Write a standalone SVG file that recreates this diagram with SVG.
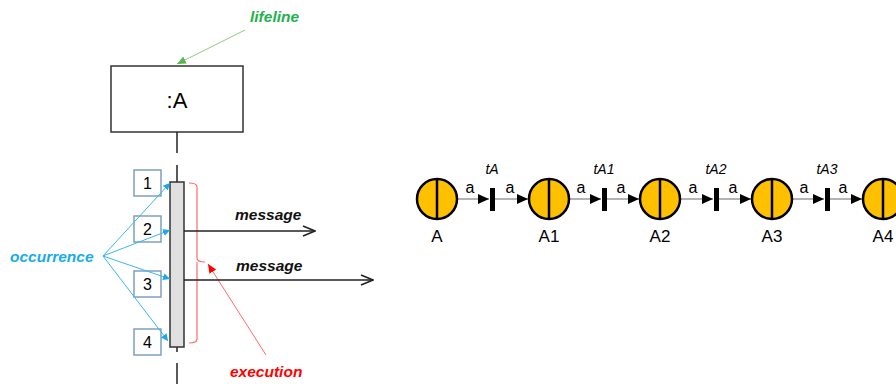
<svg xmlns="http://www.w3.org/2000/svg" width="896" height="384" viewBox="0 0 896 384">
  <style>
    .lbl { font-family: "Liberation Sans", Arial, sans-serif; }
    .note { font-family: "Liberation Sans", Arial, sans-serif; font-weight: bold; font-style: italic; font-size: 15.5px; }
    .life { stroke: #222; stroke-width: 1.5; fill: none; }
    .num { fill: #fff; stroke: #7f9fbf; stroke-width: 1.5; }
    .blue { stroke: #3bb7ee; stroke-width: 1; fill: none; }
    .place { fill: #ffc000; stroke: #000; stroke-width: 2.5; }
    .arc { stroke: #9a9a9a; stroke-width: 1.5; fill: none; }
    .msg { stroke: #222; stroke-width: 1.5; fill: none; }
  </style>
  <defs>
    <marker id="openArrow" markerWidth="14" markerHeight="12" refX="13" refY="6" orient="auto" markerUnits="userSpaceOnUse">
      <path d="M1,1 L13,6 L1,11" fill="none" stroke="#222" stroke-width="1.5"/>
    </marker>
    <marker id="blueArrow" markerWidth="8" markerHeight="8" refX="7" refY="4" orient="auto" markerUnits="userSpaceOnUse">
      <path d="M0,0.5 L7,4 L0,7.5 z" fill="#1aa8e8"/>
    </marker>
    <marker id="greenArrow" markerWidth="10" markerHeight="10" refX="9" refY="5" orient="auto" markerUnits="userSpaceOnUse">
      <path d="M0,1 L9,5 L0,9 z" fill="#5ab552"/>
    </marker>
    <marker id="redArrow" markerWidth="10" markerHeight="10" refX="9" refY="5" orient="auto" markerUnits="userSpaceOnUse">
      <path d="M0,1 L9,5 L0,9 z" fill="#ff0000"/>
    </marker>
    <marker id="arcArrow" markerWidth="12" markerHeight="12" refX="11" refY="6" orient="auto" markerUnits="userSpaceOnUse">
      <path d="M0,1 L11,6 L0,11 z" fill="#000"/>
    </marker>
  </defs>

  <!-- Sequence diagram: lifeline head -->
  <g id="objA">
    <rect x="111" y="66" width="132" height="66" fill="#fff" stroke="#333" stroke-width="1.5"/>
    <text class="lbl" x="177" y="108" font-size="22" text-anchor="middle" fill="#000">:A</text>
  </g>

  <!-- Lifeline segments -->
  <g id="lifeline">
    <line class="life" x1="177" y1="132" x2="177" y2="153"/>
    <line class="life" x1="177" y1="165" x2="177" y2="182"/>
    <line class="life" x1="177" y1="347" x2="177" y2="352"/>
    <line class="life" x1="177" y1="363" x2="177" y2="384"/>
  </g>

  <!-- Execution specification bar -->
  <g id="activation">
    <rect x="170" y="182" width="14" height="165" fill="#e0e0e0" stroke="#333" stroke-width="1.5"/>
  </g>

  <!-- Occurrence boxes -->
  <g id="occ1">
    <rect class="num" x="134" y="170" width="27" height="26"/>
    <text class="lbl" x="147.5" y="189" font-size="16" text-anchor="middle">1</text>
  </g>
  <g id="occ2">
    <rect class="num" x="134" y="216" width="27" height="26"/>
    <text class="lbl" x="147.5" y="235" font-size="16" text-anchor="middle">2</text>
  </g>
  <g id="occ3">
    <rect class="num" x="134" y="271" width="27" height="26"/>
    <text class="lbl" x="147.5" y="290" font-size="16" text-anchor="middle">3</text>
  </g>
  <g id="occ4">
    <rect class="num" x="134" y="329" width="27" height="26"/>
    <text class="lbl" x="147.5" y="348" font-size="16" text-anchor="middle">4</text>
  </g>

  <!-- Annotations -->
  <g id="note-lifeline">
    <text class="note" x="250" y="22" fill="#22b14c">lifeline</text>
  </g>
  <g id="note-occurrence">
    <text class="note" x="10" y="262" fill="#1aace8">occurrence</text>
  </g>
  <g id="note-execution">
    <text class="note" x="230" y="377" fill="#ff0000">execution</text>
  </g>
  <g id="msg-label1">
    <text class="note" x="235" y="220" fill="#111">message</text>
  </g>
  <g id="msg-label2">
    <text class="note" x="236" y="271" fill="#111">message</text>
  </g>

  <!-- Execution bracket -->
  <g id="bracket">
    <path d="M189,183 Q197,183 197,187 L197,258 Q197,262 205,262 M197,262 L197,339 Q197,343 189,343" fill="none" stroke="#ff6b6b" stroke-width="1.2"/>
  </g>

  <!-- Connectors -->
  <g id="connectors">
    <line x1="245" y1="30" x2="177" y2="64" stroke="#8fcc80" stroke-width="1" marker-end="url(#greenArrow)"/>
    <line class="blue" x1="103" y1="256" x2="170" y2="183" marker-end="url(#blueArrow)"/>
    <line class="blue" x1="103" y1="256" x2="170" y2="230" marker-end="url(#blueArrow)"/>
    <line class="blue" x1="103" y1="256" x2="170" y2="279" marker-end="url(#blueArrow)"/>
    <line class="blue" x1="103" y1="256" x2="168" y2="341" marker-end="url(#blueArrow)"/>
    <line x1="266" y1="355" x2="208" y2="264" stroke="#ff6b6b" stroke-width="1" marker-end="url(#redArrow)"/>
    <line class="msg" x1="184" y1="231" x2="315" y2="231" marker-end="url(#openArrow)"/>
    <line class="msg" x1="184" y1="280" x2="373" y2="280" marker-end="url(#openArrow)"/>

    <!-- Petri net arcs -->
    <line class="arc" x1="458" y1="199" x2="489" y2="199" marker-end="url(#arcArrow)"/>
    <line class="arc" x1="495" y1="199" x2="528" y2="199" marker-end="url(#arcArrow)"/>
    <line class="arc" x1="570" y1="199" x2="601" y2="199" marker-end="url(#arcArrow)"/>
    <line class="arc" x1="607" y1="199" x2="639" y2="199" marker-end="url(#arcArrow)"/>
    <line class="arc" x1="681" y1="199" x2="713" y2="199" marker-end="url(#arcArrow)"/>
    <line class="arc" x1="719" y1="199" x2="751" y2="199" marker-end="url(#arcArrow)"/>
    <line class="arc" x1="793" y1="199" x2="824" y2="199" marker-end="url(#arcArrow)"/>
    <line class="arc" x1="830" y1="199" x2="862" y2="199" marker-end="url(#arcArrow)"/>
  </g>

  <!-- Petri net places -->
  <g id="placeA">
    <circle class="place" cx="437" cy="199" r="20"/>
    <line x1="437" y1="179" x2="437" y2="219" stroke="#000" stroke-width="2.5"/>
    <text class="lbl" x="437" y="242" font-size="17" text-anchor="middle">A</text>
  </g>
  <g id="placeA1">
    <circle class="place" cx="549" cy="199" r="20"/>
    <line x1="549" y1="179" x2="549" y2="219" stroke="#000" stroke-width="2.5"/>
    <text class="lbl" x="549" y="242" font-size="17" text-anchor="middle">A1</text>
  </g>
  <g id="placeA2">
    <circle class="place" cx="660" cy="199" r="20"/>
    <line x1="660" y1="179" x2="660" y2="219" stroke="#000" stroke-width="2.5"/>
    <text class="lbl" x="660" y="242" font-size="17" text-anchor="middle">A2</text>
  </g>
  <g id="placeA3">
    <circle class="place" cx="772" cy="199" r="20"/>
    <line x1="772" y1="179" x2="772" y2="219" stroke="#000" stroke-width="2.5"/>
    <text class="lbl" x="772" y="242" font-size="17" text-anchor="middle">A3</text>
  </g>
  <g id="placeA4">
    <circle class="place" cx="883" cy="199" r="20"/>
    <line x1="883" y1="179" x2="883" y2="219" stroke="#000" stroke-width="2.5"/>
    <text class="lbl" x="883" y="242" font-size="17" text-anchor="middle">A4</text>
  </g>

  <!-- Petri net transitions -->
  <g id="tA">
    <rect x="490" y="188" width="5" height="23" fill="#000"/>
    <text class="lbl" x="492" y="174" font-size="14" font-style="italic" text-anchor="middle">tA</text>
  </g>
  <g id="tA1">
    <rect x="602" y="188" width="5" height="23" fill="#000"/>
    <text class="lbl" x="604" y="174" font-size="14" font-style="italic" text-anchor="middle">tA1</text>
  </g>
  <g id="tA2">
    <rect x="714" y="188" width="5" height="23" fill="#000"/>
    <text class="lbl" x="716" y="174" font-size="14" font-style="italic" text-anchor="middle">tA2</text>
  </g>
  <g id="tA3">
    <rect x="825" y="188" width="5" height="23" fill="#000"/>
    <text class="lbl" x="827" y="174" font-size="14" font-style="italic" text-anchor="middle">tA3</text>
  </g>

  <!-- Arc weights -->
  <g id="arc-labels" class="lbl" font-size="16" text-anchor="middle">
    <text x="470" y="193">a</text>
    <text x="510" y="193">a</text>
    <text x="581" y="193">a</text>
    <text x="621" y="193">a</text>
    <text x="693" y="193">a</text>
    <text x="733" y="193">a</text>
    <text x="804" y="193">a</text>
    <text x="843" y="193">a</text>
  </g>
</svg>
